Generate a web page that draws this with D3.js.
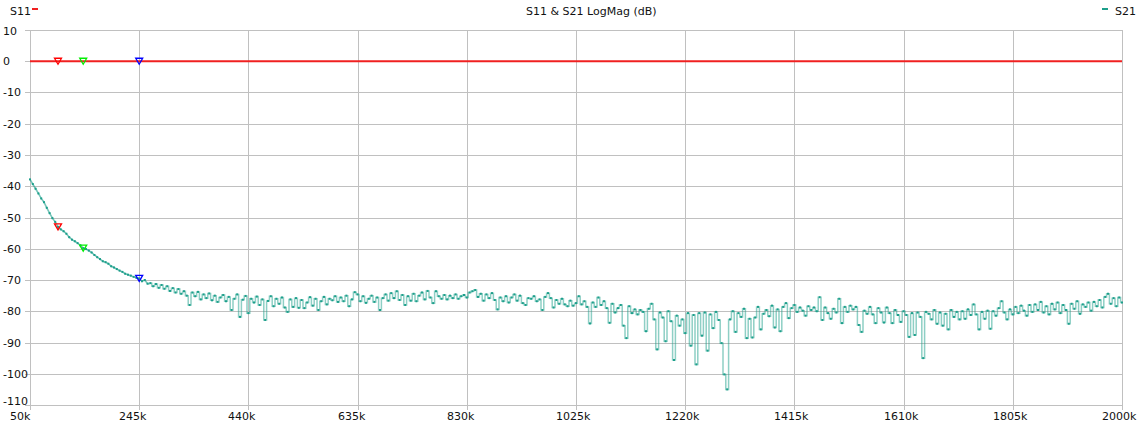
<!DOCTYPE html>
<html>
<head>
<meta charset="utf-8">
<script src="https://cdn.jsdelivr.net/npm/d3@7"></script>
<style>
  html, body { margin: 0; padding: 0; background: #fff; }
  svg { display: block; }
  text { font-family: "DejaVu Sans", sans-serif; font-size: 11px; fill: #111; }
</style>
</head>
<body>
<svg id="chart" width="1143" height="425"></svg>
<script>
// ---- data ----
const title = "S11 & S21 LogMag (dB)";
const sweepStartK = 50;      // kHz
const sweepStepK = 5;        // kHz per point
const xTicks = [50, 245, 440, 635, 830, 1025, 1220, 1415, 1610, 1805, 2000];
const xTickLabels = ["50k","245k","440k","635k","830k","1025k","1220k","1415k","1610k","1805k","2000k"];
const yTicks = [10, 0, -10, -20, -30, -40, -50, -60, -70, -80, -90, -100, -110];
const yTickLabels = ["10","0","-10","-20","-30","-40","-50","-60","-70","-80","-90","-100","-110"];
const s11Freqs = [50, 2000];
const s11Values = [0, 0];
const s21Values = [
 -37.8,-39.3,-40.8,-42.3,-43.9,-45.1,-46.9,-48.6,-50.2,-51.4,
 -53.0,-53.8,-54.4,-55.2,-56.3,-57.1,-57.6,-58.2,-58.9,-59.8,
 -60.1,-60.6,-61.2,-62.0,-62.7,-63.3,-64.0,-64.3,-64.8,-65.6,
 -66.0,-66.5,-67.0,-67.4,-68.0,-68.3,-68.6,-69.0,-69.3,-69.5,
 -70.4,-70.0,-71.2,-71.0,-72.0,-71.3,-72.5,-71.6,-72.8,-72.0,
 -73.5,-72.6,-74.0,-72.9,-74.4,-73.6,-75.0,-78.0,-74.0,-75.2,
 -73.8,-76.2,-74.6,-75.8,-74.3,-76.5,-75.0,-77.0,-75.6,-74.8,
 -76.8,-75.4,-79.6,-76.0,-74.6,-81.8,-76.3,-75.1,-80.6,-76.0,
 -77.2,-75.3,-78.0,-76.2,-82.8,-76.7,-75.2,-78.4,-76.0,-77.6,
 -75.6,-78.8,-80.2,-76.2,-78.6,-75.8,-78.9,-76.4,-79.0,-77.2,
 -75.5,-78.2,-76.0,-79.6,-76.8,-75.4,-77.8,-76.0,-76.5,-75.2,
 -77.0,-75.6,-76.8,-75.0,-78.4,-76.2,-73.9,-74.6,-76.8,-75.2,
 -77.3,-76.0,-75.0,-77.0,-75.6,-79.6,-75.8,-74.6,-76.6,-74.2,
 -75.8,-73.6,-76.4,-74.8,-78.0,-75.2,-76.6,-74.4,-76.8,-75.0,
 -74.0,-76.2,-73.5,-75.6,-77.4,-73.6,-75.2,-76.0,-74.8,-76.2,
 -75.0,-75.8,-74.6,-76.0,-75.2,-74.8,-75.6,-74.0,-73.6,-73.2,
 -75.4,-74.4,-76.6,-74.6,-75.8,-74.2,-76.4,-79.4,-75.6,-76.8,
 -75.2,-77.2,-75.6,-74.6,-76.6,-75.0,-77.4,-78.0,-75.8,-76.0,
 -75.2,-76.8,-76.2,-79.6,-75.4,-74.2,-75.8,-78.8,-76.4,-77.6,
 -76.0,-77.8,-78.4,-76.6,-78.2,-77.4,-75.2,-77.8,-76.8,-78.6,
 -83.9,-77.2,-78.6,-75.6,-78.0,-76.8,-79.0,-83.7,-77.6,-80.4,
 -79.0,-78.0,-84.6,-88.6,-78.4,-80.6,-79.4,-81.0,-79.6,-80.2,
 -86.4,-79.2,-77.6,-82.6,-92.2,-80.4,-82.0,-89.6,-80.0,-83.2,
 -95.6,-81.4,-84.6,-82.6,-87.0,-80.6,-91.0,-81.2,-97.0,-80.6,
 -87.8,-80.4,-92.6,-81.0,-85.4,-80.2,-82.8,-90.2,-100.2,-105.0,
 -82.6,-80.0,-86.6,-80.6,-81.8,-79.2,-88.6,-82.4,-88.4,-82.0,
 -78.6,-85.8,-80.8,-79.6,-81.6,-78.2,-85.2,-79.4,-86.4,-78.6,
 -77.4,-82.2,-79.0,-78.0,-80.2,-78.8,-79.8,-81.4,-78.4,-79.6,
 -78.8,-80.0,-75.5,-82.8,-78.8,-80.6,-82.4,-79.2,-80.4,-76.0,
 -83.8,-78.6,-80.2,-78.2,-79.4,-78.6,-84.4,-86.6,-79.8,-80.8,
 -78.6,-81.0,-83.8,-79.0,-80.4,-83.6,-78.8,-80.6,-83.8,-79.6,
 -81.2,-83.4,-80.0,-81.2,-88.2,-80.6,-87.6,-80.4,-81.8,-95.0,
 -80.2,-80.8,-82.6,-79.6,-84.0,-80.4,-84.6,-80.8,-85.8,-79.6,
 -81.8,-80.2,-82.6,-80.0,-82.4,-79.4,-81.2,-77.8,-81.0,-85.8,
 -80.2,-82.4,-79.8,-85.6,-80.0,-81.4,-79.0,-76.8,-80.4,-82.6,
 -79.4,-81.0,-78.6,-80.6,-78.2,-79.8,-81.4,-78.0,-80.2,-77.8,
 -79.6,-77.0,-80.4,-78.4,-81.0,-77.6,-79.4,-77.2,-80.6,-78.0,
 -79.6,-84.0,-77.6,-79.2,-76.8,-80.8,-77.8,-78.6,-77.2,-79.8,
 -77.0,-78.4,-76.4,-78.8,-75.4,-74.4,-77.6,-75.8,-78.4,-75.6,
 -77.2
];
const markerFreqs = [100, 145, 245];
const markerColors = ["#ff0000", "#00ee00", "#0000ff"];
const s11Color = "#f02020";
const s21Color = "#1d9f8b";

// ---- chart ----
const svg = d3.select("#chart");
const x = d3.scaleLinear().domain([50, 2000]).range([30, 1122]);
const y = d3.scaleLinear().domain([-110, 10]).range([405, 30]);

const s21 = s21Values.map((v, i) => ({f: sweepStartK + i * sweepStepK, v}));
const s11 = s11Freqs.map((f, i) => ({f, v: s11Values[i]}));

// grid
const grid = svg.append("g").attr("stroke", "#c0c0c0").attr("stroke-width", 1);
yTicks.forEach(t => {
  grid.append("line").attr("x1", 25).attr("x2", 1122)
    .attr("y1", Math.round(y(t)) + 0.5).attr("y2", Math.round(y(t)) + 0.5);
});
xTicks.forEach(t => {
  grid.append("line").attr("y1", 30).attr("y2", 410)
    .attr("x1", Math.round(x(t)) + 0.5).attr("x2", Math.round(x(t)) + 0.5);
});

// y labels
yTicks.forEach((t, i) => {
  let base = Math.round(y(t)) + 4;
  if (i === 0) base = 35;
  if (i === yTicks.length - 1) base = 405;
  svg.append("text").attr("x", 3).attr("y", base).text(yTickLabels[i]);
});
// x labels
xTicks.forEach((t, i) => {
  svg.append("text").attr("x", Math.round(x(t)) - 20).attr("y", 420).text(xTickLabels[i]);
});

// title & legend
svg.append("text").attr("x", 526).attr("y", 15).text(title);
svg.append("text").attr("x", 10).attr("y", 15).text("S11");
svg.append("rect").attr("x", 32).attr("y", 8).attr("width", 6).attr("height", 2).attr("fill", s11Color);
svg.append("text").attr("x", 1115).attr("y", 15).text("S21");
svg.append("rect").attr("x", 1102).attr("y", 8).attr("width", 6).attr("height", 2).attr("fill", s21Color);

// S21 trace (smooth part as line, noisy part stepped like the instrument plot)
const line = d3.line().x(d => x(d.f)).y(d => y(d.v));
const stepLine = d3.line().x(d => x(d.f)).y(d => y(d.v)).curve(d3.curveStep);
svg.append("path").datum(s21.slice(0, 43)).attr("d", line)
  .attr("fill", "none").attr("stroke", s21Color).attr("stroke-opacity", 0.6)
  .attr("stroke-width", 1.6);
svg.append("path").datum(s21.slice(42)).attr("d", stepLine)
  .attr("fill", "none").attr("stroke", s21Color).attr("stroke-opacity", 0.5)
  .attr("stroke-width", 1.5);
svg.append("g").selectAll("rect").data(s21).join("rect")
  .attr("x", d => x(d.f) - 1).attr("y", d => y(d.v) - 1)
  .attr("width", 2).attr("height", 2).attr("fill", s21Color);

// S11 trace
svg.append("path").datum(s11).attr("d", line)
  .attr("fill", "none").attr("stroke", s11Color).attr("stroke-width", 2);

// markers
function marker(cx, cy, color) {
  svg.append("path")
    .attr("d", `M${cx},${cy + 3}L${cx - 3.5},${cy - 3}L${cx + 3.5},${cy - 3}Z`)
    .attr("fill", "none").attr("stroke", color).attr("stroke-width", 1.3);
}
markerFreqs.forEach((f, k) => {
  const idx = Math.round((f - sweepStartK) / sweepStepK);
  marker(x(f), y(0), markerColors[k]);
  marker(x(f), y(s21Values[idx]), markerColors[k]);
});
</script>
</body>
</html>
